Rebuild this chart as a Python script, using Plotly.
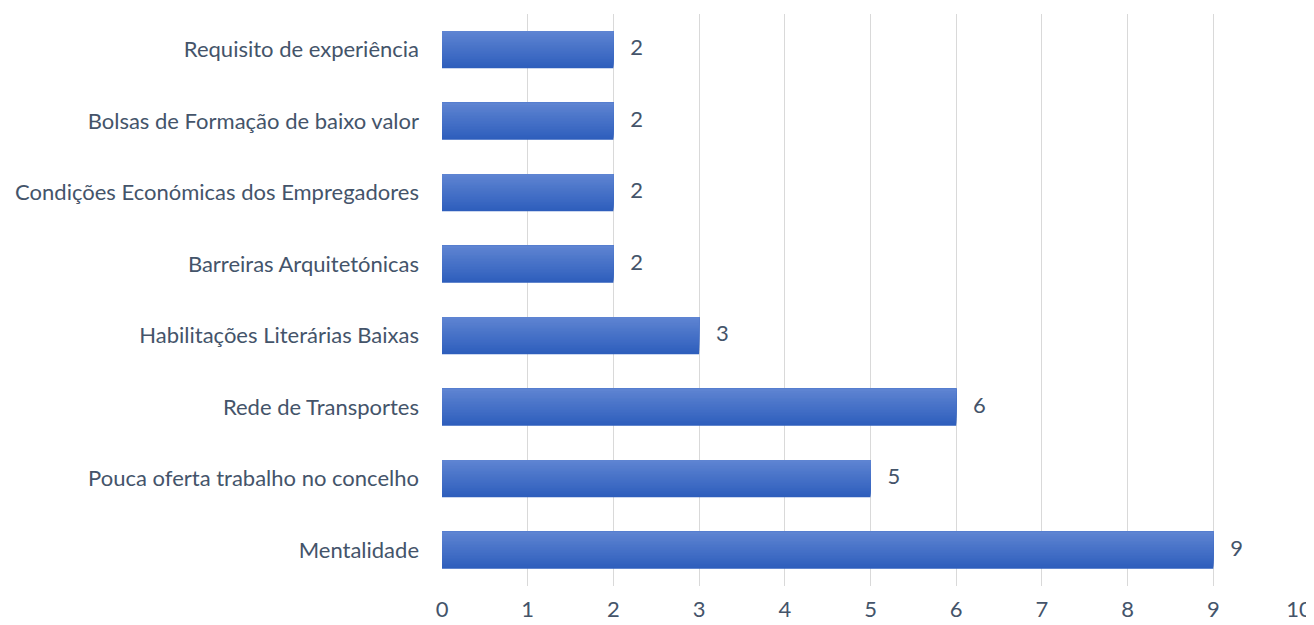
import plotly.graph_objects as go

categories = [
    "Mentalidade",
    "Pouca oferta trabalho no concelho",
    "Rede de Transportes",
    "Habilitações Literárias Baixas",
    "Barreiras Arquitetónicas",
    "Condições Económicas dos Empregadores",
    "Bolsas de Formação de baixo valor",
    "Requisito de experiência",
]
values = [9, 5, 6, 3, 2, 2, 2, 2]
x_ticks = [0, 1, 2, 3, 4, 5, 6, 7, 8, 9, 10]

FONT = "Lato"
FS = 22
TEXT_COLOR = "#44546a"

bar_w = 0.52
n_layers = 24
dark = (46, 94, 188)
light = (94, 132, 210)

fig = go.Figure()
for i in range(n_layers):
    t = i / (n_layers - 1)
    c = tuple(round(dark[k] + (light[k] - dark[k]) * t) for k in range(3))
    start = -bar_w / 2 + i * bar_w / n_layers
    fig.add_trace(go.Bar(
        y=categories, x=values, orientation="h",
        width=bar_w / 2 - start,
        offset=start,
        marker=dict(color="rgb(%d,%d,%d)" % c, line=dict(width=0)),
        hoverinfo="skip", showlegend=False,
    ))

fig.add_trace(go.Scatter(
    y=categories, x=values, mode="text",
    text=["   " + str(v) for v in values],
    textposition="middle right",
    textfont=dict(family=FONT, size=FS, color=TEXT_COLOR),
    showlegend=False, hoverinfo="skip", cliponaxis=False,
))

fig.update_layout(
    width=1306, height=617,
    margin=dict(l=434, r=15, t=6, b=39),
    paper_bgcolor="white", plot_bgcolor="white",
    barmode="overlay",
    font=dict(family=FONT, size=FS, color=TEXT_COLOR),
    xaxis=dict(
        range=[0, 10], tickvals=x_ticks, showgrid=True, gridcolor="#d9d9d9",
        gridwidth=1.3, zeroline=False, showline=False, ticks="",
        automargin=False,
        ticklabelstandoff=8, tickfont=dict(family=FONT, size=FS, color=TEXT_COLOR),
    ),
    yaxis=dict(
        type="category", categoryorder="array", categoryarray=categories,
        range=[-0.5, 7.5], showgrid=False, zeroline=False, showline=False,
        ticks="", ticklabelstandoff=22, automargin=False,
        tickfont=dict(family=FONT, size=FS, color=TEXT_COLOR),
    ),
)

fig.write_html("out.html")
